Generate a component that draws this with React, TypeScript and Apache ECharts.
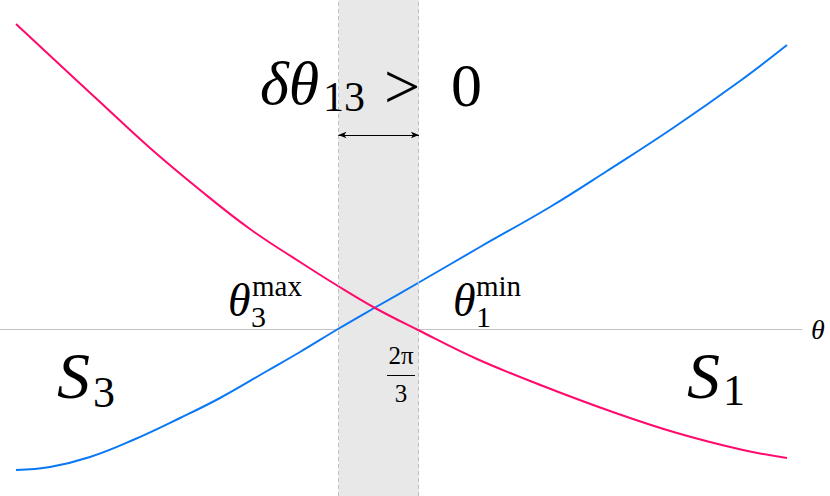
import React, { useEffect, useRef } from "react";
import * as echarts from "echarts";

// theta values (radians) and curve values (arbitrary units, 0 on the theta axis)
const s3Theta = [0.0838, 0.2618, 0.4713, 0.6965, 0.9427, 1.1521, 1.3983, 1.5711, 1.7701, 1.9691, 2.189, 2.5137, 2.8803, 3.1788, 3.5244, 3.8753, 4.1214];
const s3Values = [-1.41, -1.38, -1.28, -1.11, -0.89, -0.69, -0.42, -0.23, 0.0, 0.22, 0.46, 0.82, 1.22, 1.58, 2.01, 2.48, 2.84];

const s1Theta = [0.0838, 0.5237, 0.7855, 1.0474, 1.3092, 1.5711, 1.7701, 1.9691, 2.189, 2.498, 2.8436, 3.1945, 3.5454, 3.8911, 4.1214];
const s1Values = [3.05, 2.27, 1.81, 1.39, 1.0, 0.67, 0.43, 0.205, -0.01, -0.3, -0.57, -0.82, -1.04, -1.21, -1.29];

const bandStart = 1.772; // theta_3^max
const bandEnd = 2.194; // theta_1^min
const arrowLevel = 1.94;
const tickValues = [(2 * Math.PI) / 3];
const xMin = 0;
const xMax = 4.2;
const yMin = -1.67;
const yMax = 3.29;

const FONT = "Liberation Serif";

function txt(text: string, x: number, y: number, fontSize: number, italic = false, align = "left") {
  return {
    type: "text",
    x,
    y,
    z: 100,
    silent: true,
    style: {
      text,
      fontSize,
      fontFamily: FONT,
      fontStyle: italic ? "italic" : "normal",
      fill: "#000",
      align,
      verticalAlign: "middle",
    },
  };
}

export default function App() {
  const ref = useRef<HTMLDivElement>(null);
  useEffect(() => {
    document.body.style.margin = "0";
    const chart = echarts.init(ref.current!, null, { renderer: "svg" });
    const zip = (xs: number[], ys: number[]) => xs.map((x, i) => [x, ys[i]]);
    chart.setOption({
      animation: false,
      textStyle: { fontFamily: FONT },
      grid: { left: 0, right: 28, top: 0, bottom: 0, containLabel: false, outerBoundsMode: "none" },
      xAxis: {
        type: "value",
        min: xMin,
        max: xMax,
        name: "θ",
        nameLocation: "end",
        nameGap: 9,
        nameTextStyle: { fontFamily: FONT, fontStyle: "italic", fontSize: 28, color: "#000", verticalAlign: "middle" },
        axisLine: { show: true, lineStyle: { color: "#c4c4c4", width: 1 } },
        axisTick: { show: true, customValues: tickValues, length: 5, lineStyle: { color: "#aaa" } },
        axisLabel: { show: false },
        splitLine: { show: false },
      },
      yAxis: { type: "value", min: yMin, max: yMax, show: false, splitLine: { show: false } },
      series: [
        {
          type: "line",
          data: [],
          silent: true,
          z: 1,
          markArea: {
            silent: true,
            itemStyle: { color: "#e8e8e8" },
            data: [[{ xAxis: bandStart }, { xAxis: bandEnd }]],
          },
          markLine: {
            silent: true,
            symbol: "none",
            label: { show: false },
            lineStyle: { color: "#c0c0c0", type: [4, 3], width: 1 },
            data: [{ xAxis: bandStart }, { xAxis: bandEnd }],
          },
        },
        {
          type: "line",
          name: "S3",
          data: zip(s3Theta, s3Values),
          smooth: 0.4,
          showSymbol: false,
          symbol: "none",
          z: 3,
          lineStyle: { color: "#0a78f5", width: 2 },
        },
        {
          type: "line",
          name: "S1",
          data: zip(s1Theta, s1Values),
          smooth: 0.4,
          showSymbol: false,
          symbol: "none",
          z: 3,
          lineStyle: { color: "#ff0a6c", width: 2 },
          markLine: {
            silent: true,
            symbol: ["arrow", "arrow"],
            symbolSize: [5, 8],
            label: { show: false },
            lineStyle: { color: "#000", type: "solid", width: 1 },
            data: [[{ coord: [bandStart, arrowLevel] }, { coord: [bandEnd, arrowLevel] }]],
          },
        },
      ],
      graphic: [
        txt("δθ", 260, 83, 62, true),
        txt("13", 323, 97, 42),
        txt(">", 384, 86, 64),
        txt("0", 451, 85, 62),
        txt("θ", 228, 300, 46, true),
        txt("max", 252, 286, 29),
        txt("3", 251, 316, 30),
        txt("θ", 453, 300, 46, true),
        txt("min", 476, 286, 29),
        txt("1", 476, 316, 30),
        txt("2π", 401, 355, 25, false, "center"),
        {
          type: "line",
          z: 100,
          silent: true,
          shape: { x1: 387, y1: 375.5, x2: 415, y2: 375.5 },
          style: { stroke: "#000", lineWidth: 1 },
        },
        txt("3", 401, 393, 25, false, "center"),
        txt("S", 57, 375, 66, true),
        txt("3", 93, 392, 44),
        txt("S", 687, 375, 66, true),
        txt("1", 723, 390, 44),
      ],
    });
    return () => chart.dispose();
  }, []);
  return <div ref={ref} style={{ width: 830, height: 496 }} />;
}
